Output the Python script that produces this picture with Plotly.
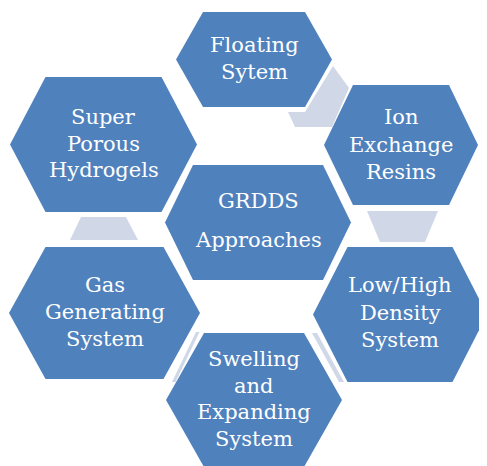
import plotly.graph_objects as go

# ---- data ----
node_labels = [
    "Floating\nSytem",
    "Ion\nExchange\nResins",
    "Super\nPorous\nHydrogels",
    "GRDDS\nApproaches",
    "Gas\nGenerating\nSystem",
    "Swelling\nand\nExpanding\nSystem",
    "Low/High\nDensity\nSystem",
]

# ---- layout (pixel geometry: cx, cy, half-width, half-height, inset) ----
hex_geom = [
    (254, 59.5, 78, 47.5, 27),
    (401, 145, 77, 60, 29),
    (103.5, 144.5, 93.5, 67.5, 35.5),
    (258, 222.5, 93, 57.5, 28),
    (104.5, 313, 95.5, 66, 36.5),
    (254, 400, 88, 67, 38),
    (400, 314.5, 87, 67.5, 34.5),
]
text_center = [58.5, 144.5, 143.5, 220.5, 312, 399, 312.5]
line_gap = [27, 27.5, 26.5, 39, 27, 26.5, 27.5]

connectors = [
    [(333, 66), (349, 88), (332, 127), (295, 127), (288, 112), (305, 112)],
    [(367, 211), (438, 211), (425, 242), (380, 242)],
    [(81, 217), (126, 217), (138, 240), (70, 240)],
    [(196, 332), (199.5, 332), (175.5, 382), (172, 382)],
    [(312, 333), (317, 333), (344, 382), (339, 382)],
]

HEX_COLOR = "#4F81BD"
CONN_COLOR = "#D0D8E8"
FONT = "DejaVu Serif"

# the page body has an 8px margin; map data pixels to window pixels
OFF = 8
W, H = 487, 466

fig = go.Figure()
shapes = []


def poly_path(pts):
    return "M " + " L ".join(f"{x},{y}" for x, y in pts) + " Z"


for pts in connectors:
    shapes.append(dict(type="path", path=poly_path(pts), xref="x", yref="y",
                       fillcolor=CONN_COLOR, line=dict(width=0), layer="below"))

for cx, cy, hw, hh, ins in hex_geom:
    pts = [(cx - hw, cy), (cx - hw + ins, cy - hh), (cx + hw - ins, cy - hh),
           (cx + hw, cy), (cx + hw - ins, cy + hh), (cx - hw + ins, cy + hh)]
    shapes.append(dict(type="path", path=poly_path(pts), xref="x", yref="y",
                       fillcolor=HEX_COLOR, line=dict(width=0), layer="below"))

annotations = []
for label, (cx, cy, hw, hh, ins), tc, gap in zip(node_labels, hex_geom, text_center, line_gap):
    lines = label.split("\n")
    n = len(lines)
    for i, ln in enumerate(lines):
        y = tc + (i - (n - 1) / 2) * gap
        annotations.append(dict(x=cx, y=y, xref="x", yref="y", text=ln, showarrow=False,
                                xanchor="center", yanchor="middle",
                                font=dict(family=FONT, size=21, color="white")))

fig.add_trace(go.Scatter(x=[OFF, W], y=[OFF, H], mode="markers",
                         marker=dict(opacity=0), hoverinfo="skip", showlegend=False))

fig.update_layout(
    width=W - OFF, height=H - OFF,
    margin=dict(l=0, r=0, t=0, b=0),
    paper_bgcolor="white", plot_bgcolor="white",
    font=dict(family=FONT),
    shapes=shapes, annotations=annotations,
    xaxis=dict(range=[OFF, W], visible=False, fixedrange=True),
    yaxis=dict(range=[H, OFF], visible=False, fixedrange=True),
    showlegend=False,
)

fig.write_html("out.html", config={"displayModeBar": False})
